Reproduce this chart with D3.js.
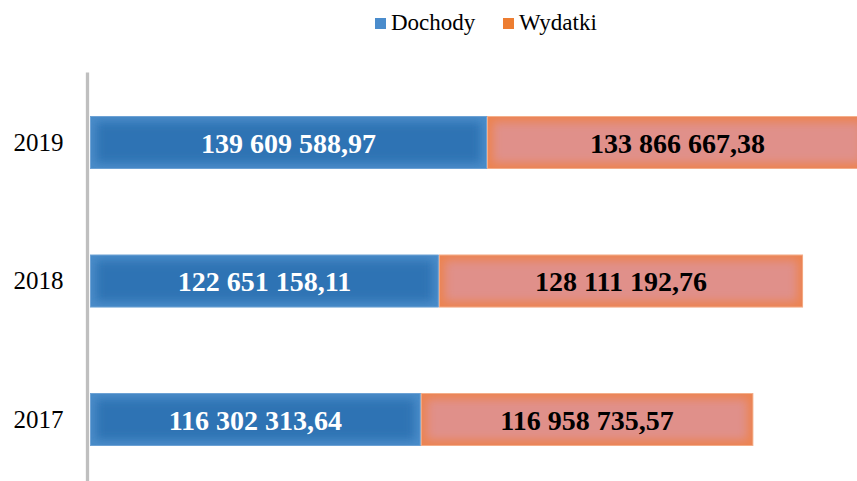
<!DOCTYPE html>
<meta charset="utf-8">
<head>
<script src="https://d3js.org/d3.v7.min.js"></script>
<style>
  body { margin: 0; background: #fff; }
  svg { display: block; }
  svg text { font-family: "Liberation Serif", "Times New Roman", serif; }
</style>
</head>
<body>
<div id="chart"></div>
<script>

  var width = 857, height = 481;

  // data (values in PLN)
  var years = ["2019", "2018", "2017"];
  var dochody = [139609588.97, 122651158.11, 116302313.64];
  var wydatki = [133866667.38, 128111192.76, 116958735.57];
  var seriesNames = ["Dochody", "Wydatki"];

  var serif = "'Liberation Serif', 'Times New Roman', serif";

  var svg = d3.select("#chart").append("svg")
    .attr("width", width)
    .attr("height", height);

  var defs = svg.append("defs");
  defs.append("filter").attr("id", "glow")
    .attr("x", "-20%").attr("y", "-50%").attr("width", "140%").attr("height", "200%")
    .append("feGaussianBlur").attr("stdDeviation", 5);

  var x = d3.scaleLinear()
    .domain([0, 300000000])
    .range([90, 90 + 2.844 * 300]);

  var y = d3.scaleBand()
    .domain(years)
    .range([73.3, 488.8])
    .paddingInner(0.617)
    .paddingOuter(0.3085);

  var rows = years.map(function(yr, i) {
    return { year: yr, d: dochody[i], w: wydatki[i], i: i };
  });

  var segs = [];
  rows.forEach(function(r) {
    segs.push({ year: r.year, x0: 0, x1: r.d, v: r.d, s: 0, i: r.i });
    segs.push({ year: r.year, x0: r.d, x1: r.d + r.w, v: r.w, s: 1, i: r.i });
  });

  var edge = ["#4a8cc9", "#ec8350"];
  var center = ["#2e73b4", "#e0908a"];

  var bars = svg.append("g").attr("class", "bars");

  segs.forEach(function(d, k) {
    var bx = x(d.x0), bw = x(d.x1) - x(d.x0), by = y(d.year), bh = y.bandwidth();
    var cid = "clip" + k;
    defs.append("clipPath").attr("id", cid)
      .append("rect").attr("x", bx).attr("y", by).attr("width", bw).attr("height", bh);
    var g = bars.append("g").attr("clip-path", "url(#" + cid + ")");
    g.append("rect")
      .attr("x", bx).attr("y", by).attr("width", bw).attr("height", bh)
      .attr("fill", edge[d.s]);
    g.append("rect")
      .attr("x", bx + 6).attr("y", by + 6).attr("width", bw - 12).attr("height", bh - 12)
      .attr("fill", center[d.s])
      .attr("filter", "url(#glow)");
    g.append("rect")
      .attr("x", bx + 0.5).attr("y", by + 0.5).attr("width", bw - 1).attr("height", bh - 1)
      .attr("fill", "none")
      .attr("stroke", d.s == 0 ? "#6fa3d6" : "#f4b08c")
      .attr("stroke-width", 1);
  });

  function fmt(v) {
    var parts = v.toFixed(2).split(".");
    var intPart = parts[0].replace(/\B(?=(\d{3})+(?!\d))/g, " ");
    return intPart + "," + parts[1];
  }

  // value labels
  svg.append("g").selectAll("text")
    .data(segs)
    .enter().append("text")
    .attr("x", function(d) { return (x(d.x0) + x(d.x1)) / 2; })
    .attr("y", function(d) { return y(d.year) + y.bandwidth() / 2 + 10; })
    .attr("text-anchor", "middle")
    .attr("font-family", serif)
    .attr("font-size", 28)
    .attr("font-weight", "bold")
    .attr("fill", function(d) { return d.s == 0 ? "#ffffff" : "#000000"; })
    .text(function(d) { return fmt(d.v); });

  // axis
  var yAxis = d3.axisLeft(y).tickSize(0).tickPadding(24);
  var ax = svg.append("g")
    .attr("transform", "translate(87.5,0)")
    .call(yAxis);
  ax.select(".domain").remove();
  ax.selectAll("text")
    .attr("font-family", serif)
    .attr("font-size", 25)
    .attr("fill", "#000");
  svg.append("line")
    .attr("x1", 87.5).attr("x2", 87.5)
    .attr("y1", 72.5).attr("y2", height)
    .attr("stroke", "#bfbfbf")
    .attr("stroke-width", 3.3);

  // legend
  var legendColors = ["#4a8ccc", "#ed7d31"];
  var legendX = [375, 503];
  var legend = svg.append("g").selectAll("g")
    .data(seriesNames)
    .enter().append("g")
    .attr("transform", function(d, i) { return "translate(" + legendX[i] + ",0)"; });
  legend.append("rect")
    .attr("x", 0).attr("y", 18).attr("width", 11).attr("height", 11)
    .attr("fill", function(d, i) { return legendColors[i]; });
  legend.append("text")
    .attr("x", 16).attr("y", 30)
    .attr("font-family", serif)
    .attr("font-size", 23)
    .attr("fill", "#000")
    .text(function(d) { return d; });

</script>
</body>
